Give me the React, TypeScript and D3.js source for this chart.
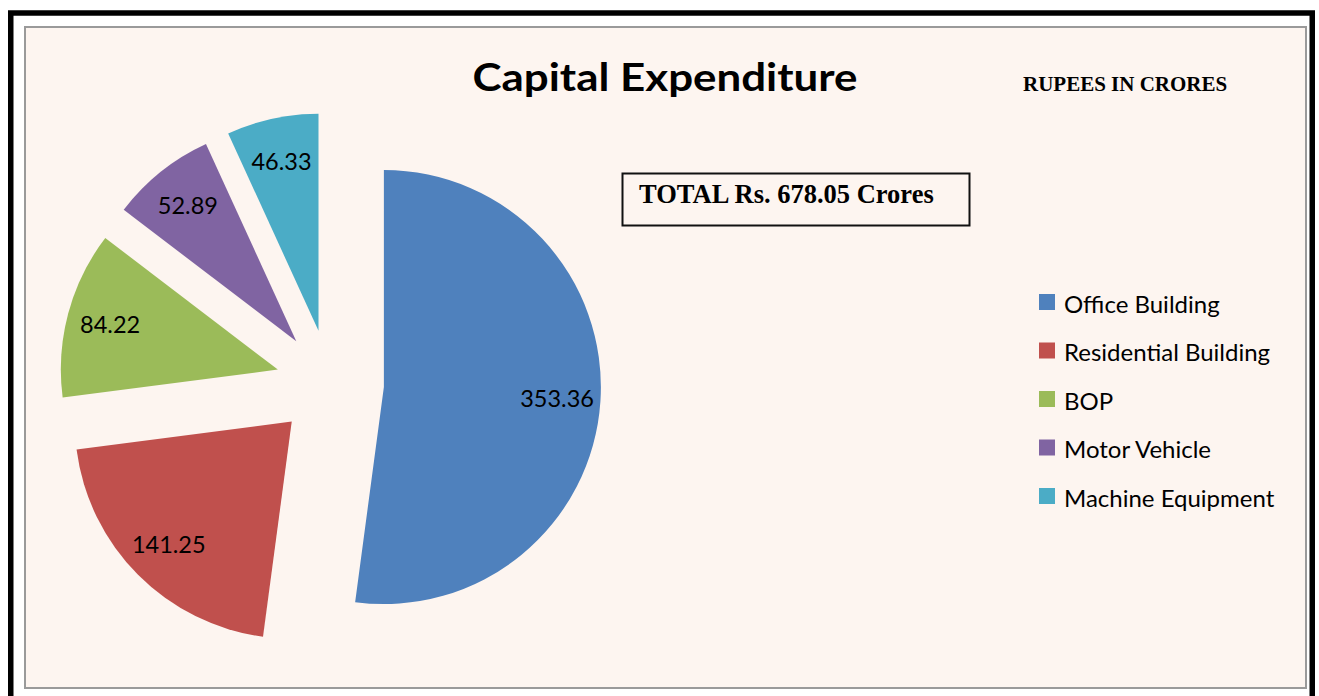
import React from "react";
import * as d3 from "d3";

const categories = ["Office Building", "Residential Building", "BOP", "Motor Vehicle", "Machine Equipment"];
const values = [353.36, 141.25, 84.22, 52.89, 46.33];
const labels = ["353.36", "141.25", "84.22", "52.89", "46.33"];
const colors = ["#4F81BD", "#C0504D", "#9BBB59", "#8064A2", "#4BACC6"];
const titleText = "Capital Expenditure";
const unitText = "RUPEES IN CRORES";
const totalText = "TOTAL Rs. 678.05 Crores";

export default function App() {
  const W = 1319, H = 696;
  const cx = 330, cy = 383.5, r = 217, explode = 54, labelK = 0.8;
  const pie = d3.pie<number>().sort(null).value((d) => d).startAngle(0).endAngle(2 * Math.PI);
  const arcs = pie(values);
  const arc = d3.arc<d3.PieArcDatum<number>>().innerRadius(0).outerRadius(r);
  const legendY = d3.scalePoint<string>().domain(categories).range([302, 496]);
  const sans = "Lato, 'Noto Sans', sans-serif";
  const serif = "'Liberation Serif', 'Times New Roman', serif";

  return (
    <svg width={W} height={H} style={{ position: "absolute", left: 0, top: 0, display: "block" }}>
      <rect x={0} y={0} width={W} height={H} fill="#ffffff" />
      <rect x={10.75} y={13} width={1301.5} height={720} fill="none" stroke="#000" strokeWidth={5.5} />
      <rect x={25} y={27} width={1281} height={661} fill="#FDF5F0" stroke="#9a9a9a" strokeWidth={2} />
      <g>
        {arcs.map((a, i) => {
          const mid = (a.startAngle + a.endAngle) / 2;
          const ox = cx + Math.sin(mid) * explode;
          const oy = cy - Math.cos(mid) * explode;
          const lx = ox + Math.sin(mid) * r * labelK;
          const ly = oy - Math.cos(mid) * r * labelK;
          return (
            <g key={categories[i]}>
              <path d={arc(a) || ""} transform={`translate(${ox},${oy})`} fill={colors[i]} />
              <text x={lx} y={ly} dy="0.36em" textAnchor="middle" fontFamily={sans} fontSize={23.5} fill="#000">
                {labels[i]}
              </text>
            </g>
          );
        })}
      </g>
      <text x={665} y={91} textAnchor="middle" fontFamily={sans} fontWeight={700} fontSize={39}
        textLength={385} lengthAdjust="spacingAndGlyphs" fill="#000">
        {titleText}
      </text>
      <text x={1023} y={91} fontFamily={serif} fontWeight={700} fontSize={21} fill="#000">
        {unitText}
      </text>
      <rect x={622.5} y={173.5} width={347} height={52} fill="none" stroke="#111" strokeWidth={2} />
      <text x={639} y={203} fontFamily={serif} fontWeight={700} fontSize={26.5} fill="#000">
        {totalText}
      </text>
      <g>
        {categories.map((c, i) => {
          const y = legendY(c) as number;
          return (
            <g key={c}>
              <rect x={1039} y={y - 8} width={16} height={16} fill={colors[i]} />
              <text x={1064} y={y + 10.5} fontFamily={sans} fontSize={24} fill="#000">
                {c}
              </text>
            </g>
          );
        })}
      </g>
    </svg>
  );
}
